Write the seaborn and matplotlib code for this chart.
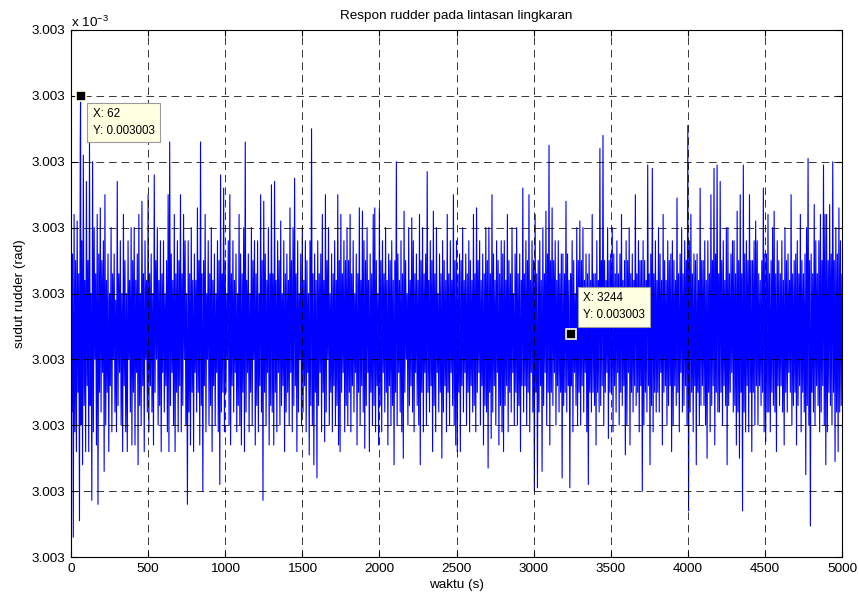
import numpy as np
import pandas as pd
import matplotlib
matplotlib.use("Agg")
import matplotlib.pyplot as plt
import seaborn as sns

# Rudder response along the circular path: the angle sits at 0.003003 rad and
# only wiggles in the last digits, so the trace is stored as small offsets.
SAMPLE_STEP = 5             # s between stored samples
BASE_ANGLE = 0.003003       # rad
OFFSET_UNIT = 1e-16         # rad per offset unit

rudder_offset = [
    5.6, 2.2, 4.6, 0.3, 5.2, 1.9, 4.5, 1.6, 5.1, 2.5, 4.3, 0.55, 6.3, 2.0, 4.8, 1.4, 6.1, 2.3, 4.2, 1.6,
    5.7, 2.6, 4.5, 1.6, 6.3, 2.3, 4.0, 0.86, 6.0, 1.9, 5.0, 3.0, 4.3, 1.7, 5.2, 0.8, 4.6, 2.5, 5.3, 2.2,
    4.5, 2.8, 4.8, 1.3, 5.5, 2.0, 4.2, 2.5, 4.6, 1.6, 4.0, 2.6, 5.0, 1.9, 4.3, 3.0, 4.6, 2.2, 3.9, 1.9,
    5.7, 2.3, 4.3, 2.8, 4.8, 2.0, 4.0, 1.6, 5.2, 2.6, 4.5, 1.9, 4.0, 1.6, 4.8, 3.0, 4.2, 2.2, 5.0, 1.7,
    4.5, 2.5, 5.0, 1.7, 4.2, 2.8, 4.6, 1.4, 5.2, 2.3, 4.0, 2.0, 5.4, 2.6, 4.3, 1.6, 4.8, 3.0, 4.2, 2.2,
    5.5, 1.9, 4.3, 2.6, 4.6, 2.2, 4.0, 1.7, 5.8, 2.5, 4.5, 3.0, 5.0, 2.0, 4.2, 2.3, 4.8, 1.6, 4.3, 2.8,
    4.8, 2.2, 4.0, 2.6, 4.5, 1.9, 5.5, 1.6, 6.3, 2.3, 4.6, 2.8, 4.2, 2.0, 5.2, 1.6, 4.3, 2.5, 4.8, 1.9,
    4.5, 2.6, 5.5, 1.9, 4.3, 2.3, 5.2, 3.0, 4.8, 2.0, 4.0, 0.8, 4.8, 2.2, 4.3, 1.7, 5.0, 2.5, 4.2, 1.6,
    4.6, 2.8, 4.2, 2.2, 5.3, 2.5, 4.5, 1.7, 6.3, 2.3, 4.3, 1.0, 4.5, 2.6, 5.2, 1.9, 4.0, 3.0, 4.8, 2.0,
    4.3, 2.3, 5.0, 1.6, 4.2, 2.6, 4.6, 2.0, 4.0, 2.8, 4.8, 1.9, 4.5, 1.1, 5.8, 2.2, 4.3, 2.5, 5.6, 1.9,
    4.5, 2.5, 4.0, 3.0, 4.8, 2.0, 5.5, 1.7, 4.3, 2.6, 4.8, 2.2, 4.2, 2.8, 4.6, 1.9, 4.0, 2.3, 5.2, 2.0,
    4.6, 1.7, 4.3, 2.5, 5.0, 1.6, 6.3, 2.2, 4.2, 2.8, 4.6, 1.9, 4.0, 2.5, 5.0, 2.0, 4.5, 3.0, 4.8, 1.7,
    4.3, 2.3, 4.8, 1.9, 4.0, 2.6, 5.5, 2.2, 4.5, 0.86, 5.4, 2.5, 4.6, 2.0, 4.2, 2.8, 5.0, 1.7, 4.3, 2.3,
    5.65, 2.2, 4.3, 1.7, 5.7, 2.5, 4.2, 1.9, 4.8, 2.8, 4.5, 2.0, 5.1, 2.3, 4.0, 2.6, 4.8, 1.6, 4.3, 2.2,
    4.6, 2.5, 4.2, 2.0, 5.3, 2.8, 4.5, 1.9, 5.0, 2.3, 5.75, 2.6, 4.3, 1.6, 4.8, 2.2, 4.0, 3.0, 4.6, 2.0,
    5.0, 2.2, 4.2, 2.6, 4.8, 1.9, 4.5, 2.8, 4.0, 1.55, 4.8, 2.3, 6.5, 2.0, 4.3, 1.4, 4.6, 2.5, 4.2, 1.2,
    4.8, 2.3, 4.3, 2.8, 4.6, 1.9, 5.2, 2.5, 4.2, 1.75, 5.5, 2.2, 4.5, 3.0, 5.0, 2.0, 4.0, 2.5, 4.6, 1.9,
    4.3, 2.6, 4.8, 2.0, 4.2, 2.3, 5.5, 1.7, 4.5, 1.6, 5.2, 2.5, 4.3, 2.8, 4.8, 1.9, 4.5, 2.3, 5.0, 2.0,
    4.5, 2.5, 5.2, 1.9, 4.3, 2.6, 4.8, 2.2, 4.0, 2.8, 4.6, 1.7, 4.3, 2.5, 5.3, 2.0, 4.2, 2.6, 5.25, 2.2,
    4.8, 1.65, 4.5, 2.3, 5.0, 2.8, 4.2, 1.6, 4.6, 2.5, 4.3, 2.0, 5.2, 2.3, 5.3, 1.9, 4.5, 2.6, 4.0, 1.7,
    5.3, 2.3, 4.5, 1.9, 4.8, 2.8, 4.3, 2.2, 5.0, 2.5, 4.2, 1.7, 4.6, 2.6, 4.5, 2.0, 4.8, 2.3, 4.2, 1.4,
    4.5, 2.5, 6.0, 2.0, 4.6, 2.8, 4.2, 2.2, 4.8, 1.9, 4.3, 1.5, 5.25, 2.5, 4.5, 3.0, 4.0, 2.0, 5.0, 2.3,
    4.2, 2.6, 5.15, 2.2, 4.8, 1.9, 4.3, 2.8, 4.6, 2.3, 4.2, 2.0, 5.2, 1.4, 4.5, 2.5, 5.0, 1.9, 4.3, 2.8,
    4.6, 2.0, 5.85, 2.5, 4.2, 2.2, 4.8, 2.6, 4.5, 1.6, 5.25, 2.3, 4.3, 1.9, 5.0, 2.8, 4.0, 2.2, 4.6, 2.5,
    4.3, 1.5, 4.8, 2.2, 4.5, 2.6, 4.2, 1.9, 5.2, 2.5, 4.3, 2.0, 4.8, 2.8, 4.2, 2.3, 5.5, 2.0, 4.5, 1.7,
    4.8, 1.6, 4.3, 2.5, 4.6, 1.6, 4.5, 2.6, 5.0, 2.2, 4.2, 2.8, 4.6, 2.0, 4.3, 2.5, 4.8, 1.9, 4.5, 2.6,
    4.2, 2.2, 5.2, 2.3, 4.3, 1.9, 5.3, 2.5, 4.5, 2.8, 4.8, 2.0, 4.2, 2.6, 4.6, 1.7, 4.3, 2.3, 5.0, 2.2,
    4.5, 1.35, 5.0, 2.5, 4.3, 1.8, 5.5, 2.2, 4.6, 2.6, 4.2, 2.0, 4.8, 2.8, 4.5, 1.7, 4.3, 2.3, 4.8, 1.9,
    4.6, 1.6, 4.8, 2.3, 4.2, 2.6, 5.2, 1.9, 4.5, 2.5, 4.3, 2.2, 5.0, 2.8, 4.0, 2.0, 4.6, 2.5, 5.0, 2.0,
    4.3, 2.3, 4.6, 1.6, 4.2, 2.6, 5.6, 2.2, 4.3, 2.6, 4.8, 2.0, 4.5, 2.5, 5.5, 1.9, 4.2, 2.8, 4.8, 2.2,
    4.5, 1.0, 5.2, 2.5, 4.3, 1.05, 4.5, 2.2, 4.8, 2.6, 4.2, 1.3, 5.0, 2.3, 4.3, 2.8, 5.25, 2.0, 4.6, 2.5,
    6.25, 1.7, 4.5, 2.5, 5.3, 2.3, 4.5, 2.8, 4.8, 2.0, 4.2, 2.6, 4.8, 2.2, 4.3, 2.5, 4.6, 1.2, 4.6, 2.3,
    4.3, 2.5, 5.4, 2.2, 4.6, 2.6, 4.2, 1.05, 4.3, 2.6, 4.8, 1.9, 4.5, 2.8, 4.0, 2.3, 5.0, 2.0, 4.5, 2.5,
    5.1, 2.0, 4.5, 2.6, 5.0, 2.2, 4.2, 2.8, 4.6, 1.9, 4.3, 1.1, 4.6, 2.5, 4.2, 2.2, 5.2, 2.5, 4.3, 2.3,
    4.3, 1.7, 4.8, 2.5, 4.2, 2.2, 6.2, 2.3, 4.5, 2.6, 6.4, 2.0, 4.5, 2.5, 4.2, 2.8, 5.0, 1.8, 4.5, 2.5,
    4.6, 2.5, 5.0, 1.9, 4.6, 2.6, 4.3, 2.2, 4.8, 2.8, 4.3, 2.0, 4.6, 2.5, 5.2, 2.3, 4.2, 2.6, 4.5, 1.55,
    4.8, 2.0, 4.5, 2.8, 5.0, 1.7, 4.3, 2.5, 4.6, 2.2, 4.2, 2.6, 5.5, 2.3, 4.3, 2.5, 4.8, 1.9, 4.5, 2.6,
    4.5, 1.0, 4.8, 2.0, 4.5, 2.5, 4.2, 2.2, 5.95, 2.6, 4.3, 1.4, 4.6, 2.3, 5.9, 1.9, 4.3, 2.5, 4.8, 2.2,
    4.2, 2.5, 5.0, 2.2, 4.6, 2.8, 4.2, 1.7, 5.2, 2.5, 4.5, 2.6, 4.2, 2.0, 4.8, 2.3, 4.5, 2.6, 4.6, 1.6,
    4.8, 2.0, 4.5, 2.6, 4.2, 2.3, 5.45, 2.5, 4.3, 1.9, 4.6, 2.8, 5.0, 2.2, 4.3, 2.3, 4.8, 2.6, 4.5, 2.0,
    6.55, 0.7, 4.8, 2.2, 5.2, 2.5, 4.3, 1.9, 4.6, 2.6, 4.5, 1.4, 4.6, 2.5, 4.2, 2.0, 5.6, 2.3, 4.5, 2.6,
    4.5, 2.3, 4.8, 2.0, 4.2, 1.5, 4.8, 2.5, 4.3, 1.9, 5.5, 2.3, 4.5, 2.6, 5.9, 1.7, 4.6, 2.5, 5.95, 2.2,
    4.3, 2.2, 5.7, 2.5, 4.5, 2.0, 4.8, 2.6, 4.2, 2.3, 5.0, 1.4, 5.0, 2.3, 4.3, 2.5, 4.6, 2.8, 4.8, 2.2,
    4.8, 2.3, 4.3, 1.7, 5.25, 2.2, 4.5, 1.5, 5.5, 2.5, 4.3, 0.7, 5.95, 2.2, 4.6, 1.9, 4.8, 2.6, 4.5, 1.9,
    5.5, 2.5, 4.5, 1.6, 4.5, 2.5, 4.8, 2.0, 5.1, 2.6, 4.8, 2.0, 4.3, 2.6, 4.2, 2.3, 4.5, 2.5, 5.6, 1.9,
    4.6, 1.75, 4.6, 2.2, 5.2, 2.2, 4.3, 1.9, 4.5, 2.5, 5.0, 2.3, 5.25, 2.2, 4.3, 1.6, 4.8, 2.6, 4.5, 2.3,
    4.3, 2.6, 4.8, 2.2, 4.2, 1.7, 5.0, 2.5, 4.5, 2.2, 4.6, 2.8, 4.2, 2.5, 5.5, 2.0, 4.3, 2.3, 4.5, 2.5,
    4.6, 1.7, 4.8, 2.3, 4.3, 2.6, 5.2, 1.9, 4.5, 2.5, 4.3, 2.2, 4.6, 1.25, 5.0, 2.3, 6.05, 2.0, 4.5, 0.47,
    4.6, 2.5, 4.3, 2.2, 5.35, 2.0, 4.8, 2.6, 4.3, 2.3, 4.8, 1.9, 5.2, 2.2, 4.5, 2.6, 5.95, 2.0, 5.2, 1.4,
    5.2, 1.9, 4.5, 2.5, 5.35, 2.3, 4.6, 2.0, 6.0, 2.5, 4.5, 1.45, 5.0, 2.2, 4.6, 1.6, 5.3, 2.2, 4.8, 2.3,
    4.3,
]

# Two samples picked out with data tips
tip_time = [62, 3244]
tip_offset = [7.0, 3.38]

x_ticks = [0, 500, 1000, 1500, 2000, 2500, 3000, 3500, 4000, 4500, 5000]
y_tick_offsets = [0, 1, 2, 3, 4, 5, 6, 7, 8]

title_text = "Respon rudder pada lintasan lingkaran"
x_label = "waktu (s)"
y_label = "sudut rudder (rad)"

# ---- data table -------------------------------------------------------------
trace = pd.DataFrame({
    "waktu": np.arange(len(rudder_offset)) * SAMPLE_STEP,
    "offset": rudder_offset,
})
tips = pd.DataFrame({"waktu": tip_time, "offset": tip_offset})
trace = pd.concat([trace, tips]).sort_values("waktu").reset_index(drop=True)

# ---- style ------------------------------------------------------------------
sns.set_style("white")
plt.rcParams["font.family"] = ["Liberation Sans", "DejaVu Sans"]
plt.rcParams["mathtext.default"] = "regular"
plt.rcParams["lines.scale_dashes"] = False

fig = plt.figure(figsize=(8.59, 5.95), dpi=100)
fig.patch.set_facecolor("white")
W, H = 859, 595
ax = fig.add_axes([71 / W, (H - 557) / H, 771 / W, 527 / H])
ax.set_facecolor("white")

sns.lineplot(data=trace, x="waktu", y="offset", ax=ax, color="#0000ff",
             linewidth=0.8, estimator=None, sort=True, legend=False)

ax.set_xlim(0, 5000)
ax.set_ylim(0, 8)
ax.set_xticks(x_ticks)
ax.set_xticklabels([str(v) for v in x_ticks])
ax.set_yticks(y_tick_offsets)
ax.set_yticklabels([f"{(BASE_ANGLE + k * OFFSET_UNIT) * 1e3:.3f}" for k in y_tick_offsets])

ax.grid(True, color="black", linestyle=(0, (5.5, 3.5)), linewidth=0.55)
ax.set_axisbelow(False)
for sp in ax.spines.values():
    sp.set_color("black")
    sp.set_linewidth(0.8)
    sp.set_visible(True)
ax.tick_params(axis="both", which="both", direction="in", length=4, width=0.8,
               color="black", labelsize=9.7, labelcolor="black",
               top=True, right=True, bottom=True, left=True)
ax.tick_params(axis="x", pad=4)
ax.tick_params(axis="y", pad=4)

ax.set_title(title_text, fontsize=9.7, color="black", pad=8)
ax.set_xlabel(x_label, fontsize=9.7, color="black", labelpad=3)
ax.set_ylabel(y_label, fontsize=9.7, color="black", labelpad=4)

# exponent marker of the y scale
ax.text(0.0, 1.0, "x 10$^{-3}$", transform=ax.transAxes, fontsize=9.7,
        ha="left", va="bottom", color="black")

# ---- data tips --------------------------------------------------------------
ax.plot(tip_time, tip_offset, linestyle="none", marker="s", markersize=6.5,
        markerfacecolor="black", markeredgecolor="#ffffe8", markeredgewidth=1.2,
        zorder=5)

tip_offsets_px = [(12, -12), (12, 42)]
for t, y, (dx, dy) in zip(tip_time, tip_offset, tip_offsets_px):
    label = f"X: {t}\nY: {BASE_ANGLE + y * OFFSET_UNIT:.4g}"
    ax.annotate(label, xy=(t, y), xytext=(dx, dy), textcoords="offset pixels",
                ha="left", va="top", fontsize=8.4, color="black", linespacing=1.55,
                bbox=dict(boxstyle="square,pad=0.45", facecolor="#ffffe1",
                          edgecolor="#9a9a9a", linewidth=0.8),
                zorder=6)

fig.savefig("out.png", dpi=100, facecolor="white")
